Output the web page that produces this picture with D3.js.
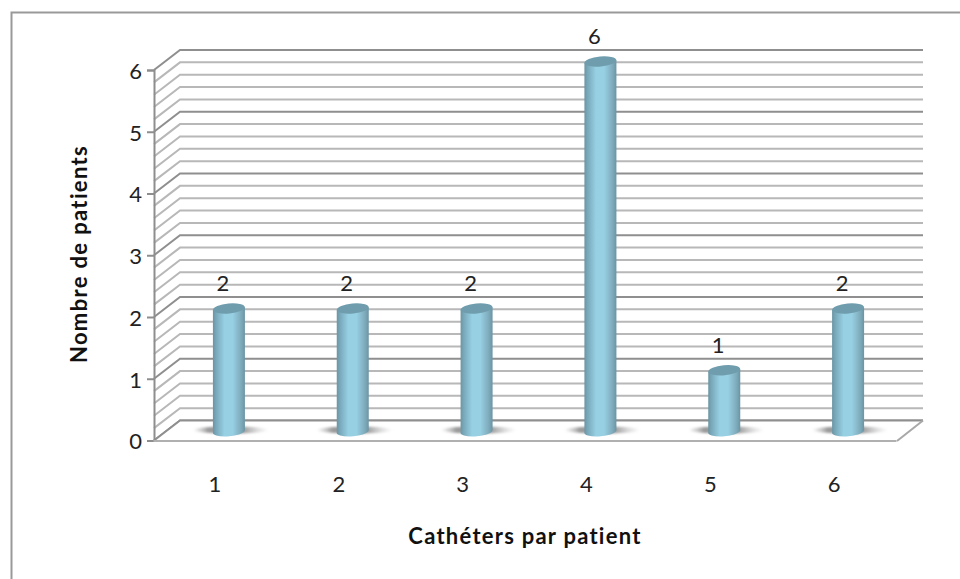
<!DOCTYPE html>
<html><head><meta charset="utf-8">
<script src="https://cdn.jsdelivr.net/npm/d3@7"></script>
<style>html,body{margin:0;padding:0;background:#fff}svg{display:block}text{font-family:Lato,"Open Sans",sans-serif;fill:#111}</style>
</head><body><div id="c"></div>
<script>
const categories = ["1","2","3","4","5","6"];
const patients = [2,2,2,6,1,2];
const yTicks = [0,1,2,3,4,5,6];
const minorStep = 0.2;
const xTitle = "Cathéters par patient";
const yTitle = "Nombre de patients";

const W=960,H=579, depthX=26, depthY=20;
const svg=d3.select("#c").append("svg").attr("width",W).attr("height",H);
const defs=svg.append("defs");
const grad=defs.append("linearGradient").attr("id","cyl");
[[0,"#6a94a3"],[0.1,"#78a8b9"],[0.36,"#97cfe3"],[0.62,"#97cfe3"],[0.88,"#7eabbb"],[1,"#6a94a3"]]
 .forEach(([o,c])=>grad.append("stop").attr("offset",o).attr("stop-color",c));
const sh=defs.append("linearGradient").attr("id","shadow");
[[0,"#aaa",0],[0.2,"#8a8a8a",0.85],[0.66,"#8a8a8a",0.85],[1,"#bbb",0]]
 .forEach(([o,c,a])=>sh.append("stop").attr("offset",o).attr("stop-color",c).attr("stop-opacity",a));
defs.append("filter").attr("id","soft").attr("x","-20%").attr("y","-50%").attr("width","140%").attr("height","200%")
 .append("feGaussianBlur").attr("stdDeviation",1);
defs.append("filter").attr("id","edge").append("feGaussianBlur").attr("stdDeviation",0.5);

const x=d3.scaleBand().domain(categories).range([154,897]);
const y=d3.scaleLinear().domain([0,6]).range([440.5,70]);

// chart frame (top and left only, as in the picture)
svg.append("path").attr("d",`M11.5,${H}V12.5H${W}`).attr("fill","none").attr("stroke","#999").attr("stroke-width",2);

// back wall and side wall gridlines
const levels=d3.range(0,30+1).map(i=>i*minorStep);
const grid=svg.append("g").attr("fill","none").attr("filter","url(#edge)");
grid.selectAll("path").data(levels).join("path")
 .attr("d",d=>{const yy=y(d);return `M154,${yy}L${154+depthX},${yy-depthY}H${897+depthX}`;})
 .attr("stroke",d=>Math.abs(d-Math.round(d))<1e-6?"#8f8f8f":"#b8b8b8")
 .attr("stroke-width",2);

// floor
svg.append("path").attr("d",`M154,${y(0)}L${154+depthX},${y(0)-depthY}H${897+depthX}L897,${y(0)}Z`).attr("fill","#fff");
svg.append("path").attr("d",`M154,${y(0)}L${154+depthX},${y(0)-depthY}H${897+depthX}`)
 .attr("fill","none").attr("stroke","#8f8f8f").attr("stroke-width",2).attr("filter","url(#edge)");
svg.append("path").attr("d",`M897,${y(0)+0.5}L${897+depthX},${y(0)-depthY}`)
 .attr("fill","none").attr("stroke","#a8a8a8").attr("stroke-width",2);

// axes
const yAxis=d3.axisLeft(y).tickValues(yTicks).tickSize(7).tickPadding(5).tickFormat(d3.format("d"));
const gy=svg.append("g").attr("transform","translate(154,0)").call(yAxis);
gy.selectAll("path,line").attr("stroke","#8e8e8e").attr("stroke-width",2);
gy.selectAll("text").attr("font-size",22).attr("dy","0.38em").style("fill","#222");

const xAxis=d3.axisBottom(x).tickSize(0).tickPadding(36);
const gx=svg.append("g").attr("transform",`translate(-1,${y(0)})`).call(xAxis);
gx.select(".domain").attr("stroke","#b0b0b0").attr("stroke-width",2);
gx.selectAll("text").attr("font-size",22).style("fill","#222");

// cylinders
const rx=16, ry=5, baseOff=8.5;
const cx=d=>x(d.c)+x.bandwidth()/2+13;
const data=categories.map((c,i)=>({c,v:patients[i]}));
const bars=svg.append("g").selectAll("g").data(data).join("g");
bars.append("ellipse").attr("cx",d=>cx(d)+2).attr("cy",y(0)-10.5).attr("rx",38).attr("ry",3.6)
 .attr("fill","url(#shadow)").attr("filter","url(#soft)");
bars.append("path").attr("fill","url(#cyl)")
 .attr("d",d=>{const c=cx(d),t=y(d.v)-baseOff,b=y(0)-baseOff;
   return `M${c-rx},${t+1.3}V${b}A${rx},${ry} -5 0 0 ${c+rx},${b-1.4}V${t-1.3}Z`;});
bars.append("ellipse").attr("cx",cx).attr("cy",d=>y(d.v)-baseOff).attr("rx",rx).attr("ry",ry)
 .attr("transform",d=>`rotate(-5 ${cx(d)} ${y(d.v)-baseOff})`).attr("fill","#6f9dad");
bars.append("text").attr("x",d=>cx(d)-6).attr("y",d=>y(d.v)-26).attr("text-anchor","middle")
 .attr("font-size",22).text(d=>d.v).style("fill","#222");

// axis titles
svg.append("text").attr("x",525).attr("y",544).attr("text-anchor","middle")
 .attr("font-size",22).attr("font-weight",700).attr("letter-spacing",1.25).text(xTitle);
svg.append("text").attr("transform","translate(87,254) rotate(-90)").attr("text-anchor","middle")
 .attr("font-size",22).attr("font-weight",700).attr("letter-spacing",1.35).text(yTitle);
</script></body></html>
